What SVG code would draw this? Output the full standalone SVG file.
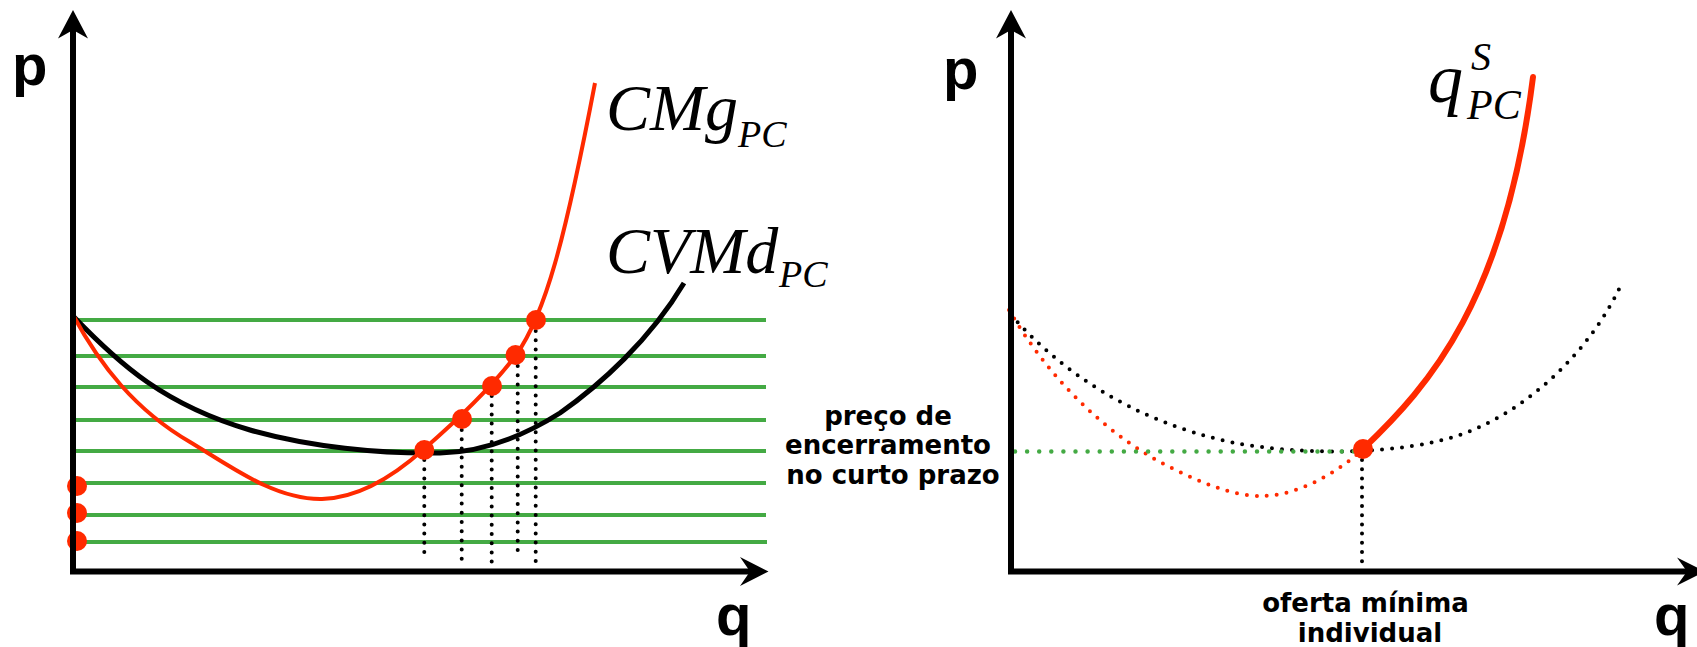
<svg xmlns="http://www.w3.org/2000/svg" width="1697" height="647" viewBox="0 0 1697 647">
<style>
.axis{stroke:#000;stroke-width:6;fill:none}
.head{fill:#000}
.grn{stroke:#44aa44;stroke-width:4;fill:none}
.red{stroke:#ff2a00;stroke-width:4;fill:none}
.redthick{stroke:#ff2a00;stroke-width:6;fill:none;stroke-linecap:round}
.blk{stroke:#000;stroke-width:5;fill:none}
.vdot{stroke:#000;stroke-width:4;fill:none;stroke-linecap:round;stroke-dasharray:0 9.2}
.cdotk{stroke:#000;stroke-width:4;fill:none;stroke-linecap:round;stroke-dasharray:0 10}
.cdotr{stroke:#ff2a00;stroke-width:4;fill:none;stroke-linecap:round;stroke-dasharray:0 10}
.gdot{stroke:#44aa44;stroke-width:4.5;fill:none;stroke-linecap:round;stroke-dasharray:0 12.1}
.dot{fill:#ff2a00}
.ax{font-family:"Liberation Sans",Arial,sans-serif;font-weight:bold;font-size:58px;fill:#000}
.lab{font-family:"DejaVu Sans",sans-serif;font-weight:bold;font-size:26px;fill:#000;text-anchor:middle}
.math{font-family:"Liberation Serif","Times New Roman",serif;font-style:italic;fill:#000}
</style>

<g id="left-panel">
  <g id="left-grid">
    <line class="grn" x1="76" y1="320" x2="766" y2="320"/>
    <line class="grn" x1="76" y1="356" x2="766" y2="356"/>
    <line class="grn" x1="76" y1="387" x2="766" y2="387"/>
    <line class="grn" x1="76" y1="420" x2="766" y2="420"/>
    <line class="grn" x1="76" y1="451" x2="766" y2="451"/>
    <line class="grn" x1="76" y1="483" x2="766" y2="483"/>
    <line class="grn" x1="76" y1="515" x2="766" y2="515"/>
    <line class="grn" x1="76" y1="542" x2="767" y2="542"/>
  </g>
  <g id="left-drops">
    <line class="vdot" x1="424.3" y1="460" x2="424.3" y2="560"/>
    <line class="vdot" x1="461.7" y1="430" x2="461.7" y2="567"/>
    <line class="vdot" x1="491.7" y1="396" x2="491.7" y2="567"/>
    <line class="vdot" x1="517.7" y1="366" x2="517.7" y2="558"/>
    <line class="vdot" x1="535.7" y1="331" x2="535.7" y2="567"/>
  </g>
  <g id="left-curves">
    <path id="cvmd" class="blk" d="M73,316 C120,365 165,405 250,430 C310,447 380,454 440,453 C490,452 530,432 560,413 C600,385 650,340 684,283"/>
    <path id="cmg" class="red" d="M73,315 C100,365 135,410 190,442 C230,466 275,500 322,499 C360,498 395,475 424,449 C455,422 490,390 516,355 C545,315 565,240 595,83"/>
  </g>
  <g id="left-dots">
    <circle class="dot" cx="536" cy="320" r="10"/>
    <circle class="dot" cx="515.5" cy="355" r="10"/>
    <circle class="dot" cx="492" cy="386" r="10"/>
    <circle class="dot" cx="462" cy="419" r="10"/>
    <circle class="dot" cx="424.3" cy="450" r="10"/>
    <circle class="dot" cx="77" cy="486" r="10"/>
    <circle class="dot" cx="77" cy="513" r="10"/>
    <circle class="dot" cx="77" cy="541" r="10"/>
  </g>
  <g id="left-axes">
    <path class="axis" d="M73,30 L73,574.5 M70,571.5 L752,571.5"/>
    <path class="head" d="M73,10 L88,38.5 L73,30 L58,38.5 Z"/>
    <path class="head" d="M768.5,571.5 L740,557 L750,571.5 L740,586 Z"/>
    <text class="ax" x="12" y="85">p</text>
    <text class="ax" x="716" y="635">q</text>
  </g>
  <g id="left-labels">
    <text class="math" x="606" y="130" font-size="66">CMg</text>
    <text class="math" x="738" y="147" font-size="38">PC</text>
    <text class="math" x="606" y="272.7" font-size="66">CVMd</text>
    <text class="math" x="779" y="287" font-size="38">PC</text>
  </g>
</g>

<g id="middle-label">
  <text class="lab" x="888" y="425">preço de</text>
  <text class="lab" x="888" y="454">encerramento</text>
  <text class="lab" x="893" y="484.3">no curto prazo</text>
</g>

<g id="right-panel">
  <g id="right-curves">
    <path class="cdotk" d="M1011,315 C1060,370 1130,420 1230,442 C1300,456 1400,455 1460,435 C1530,410 1590,350 1620,287"/>
    <path class="cdotr" d="M1009,310 C1050,380 1110,440 1180,472 C1215,489 1240,496 1262,496 C1295,496 1335,475 1363,449"/>
    <line class="gdot" x1="1015" y1="451.5" x2="1355" y2="451.5"/>
    <line class="vdot" x1="1362" y1="460" x2="1362" y2="566"/>
    <path id="supply" class="redthick" d="M1363,449 C1430,385 1505,300 1533,77"/>
    <circle class="dot" cx="1363" cy="449" r="10"/>
  </g>
  <g id="right-axes">
    <path class="axis" d="M1011,30 L1011,574.5 M1008,571.5 L1690,571.5"/>
    <path class="head" d="M1011,10 L1026,38.5 L1011,30 L996,38.5 Z"/>
    <path class="head" d="M1705,571.5 L1677,557.5 L1687,571.5 L1677,585.5 Z"/>
    <text class="ax" x="943" y="89">p</text>
    <text class="ax" x="1654" y="635">q</text>
  </g>
  <g id="right-labels">
    <text class="math" x="1428" y="101.7" font-size="70">q</text>
    <text class="math" x="1471" y="70" font-size="40">S</text>
    <text class="math" x="1467" y="119.3" font-size="42">PC</text>
    <text class="lab" x="1365.5" y="611.7">oferta mínima</text>
    <text class="lab" x="1370" y="642.3">individual</text>
  </g>
</g>
</svg>
